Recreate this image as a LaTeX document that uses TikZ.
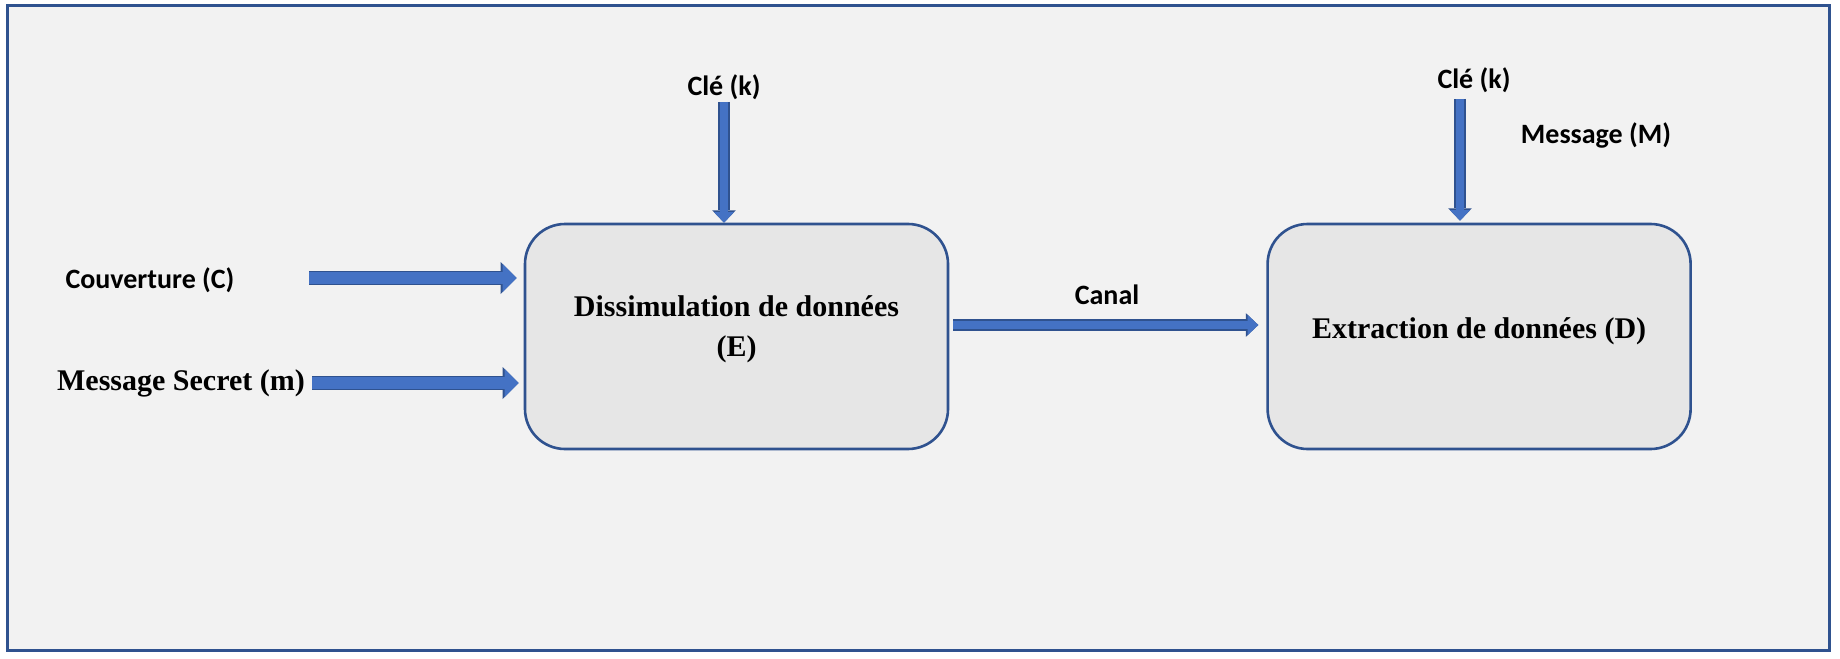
\documentclass[tikz,border=0pt]{standalone}
\usepackage{fontspec}
\newfontfamily\lblfont{Carlito}
\newfontfamily\boxfont{Liberation Serif}
\usetikzlibrary{arrows.meta,positioning}
\definecolor{framecol}{HTML}{2F528F}
\definecolor{bgcol}{HTML}{F2F2F2}
\definecolor{boxfill}{HTML}{E6E6E6}
\definecolor{arrowfill}{HTML}{4472C4}
\tikzset{
  procbox/.style={draw=framecol, line width=1.3pt, fill=boxfill, rounded corners=20pt,
    minimum width=211.5pt, minimum height=112.5pt, align=center, inner sep=0pt,
    font=\boxfont\bfseries\fontsize{15}{20}\selectfont},
  lbl/.style={inner sep=0pt, font=\lblfont\bfseries\fontsize{14}{16}\selectfont},
  seriflbl/.style={inner sep=0pt, font=\boxfont\bfseries\fontsize{15}{17}\selectfont},
  bigarrow/.style={draw=arrowfill, line width=5.8pt,
    -{Triangle[width=14pt,length=7pt,line width=0pt]},
    preaction={draw=framecol, line width=7.2pt, -{Triangle[width=16pt,length=8pt,line width=0pt]}}},
  thinarrow/.style={draw=arrowfill, line width=4.2pt,
    -{Triangle[width=10pt,length=5.3pt,line width=0pt]},
    preaction={draw=framecol, line width=5.6pt, -{Triangle[width=11.8pt,length=6.2pt,line width=0pt]}}}
}
\begin{document}
\begin{tikzpicture}[x=0.5pt, y=-0.5pt]
  \useasboundingbox (0,0) rectangle (1840,658);
  % cadre
  \draw[framecol, line width=1.5pt, fill=bgcol] (7,6) rectangle (1829,650);

  % blocs
  \node[procbox, text depth=10.5pt] (hide) at (736.5,336.5) {Dissimulation de données\\(E)};
  \node[procbox, text depth=8.3pt, right=158.5pt of hide] (extract) {Extraction de données (D)};

  % textes
  \node[lbl] (cover) at (150,280) {Couverture (C)};
  \node[seriflbl] (secret) at (181,383) {Message Secret (m)};
  \node[lbl] (key1) at (724,87) {Clé (k)};
  \node[lbl] (key2) at (1474,80) {Clé (k)};
  \node[lbl] (msg) at (1596,135) {Message (M)};
  \node[lbl] (canal) at (1107,295) {Canal};

  % flèches
  \coordinate (coverS) at (309,278);
  \coordinate (key1S) at (724,102);
  \coordinate (key2S) at (1460,99);
  \coordinate (canalS) at (953,325);
  \draw[bigarrow, shorten >=3.5pt] (coverS) -- (coverS -| hide.west);
  \draw[bigarrow, shorten <=3.5pt, shorten >=2.5pt] (secret.east) -- (secret.east -| hide.west);
  \draw[thinarrow] (key1S) -- (key1S |- hide.north);
  \draw[thinarrow, shorten >=1pt] (key2S) -- (key2S |- extract.north);
  \draw[thinarrow, shorten >=4pt] (canalS) -- (canalS -| extract.west);
\end{tikzpicture}
\end{document}
